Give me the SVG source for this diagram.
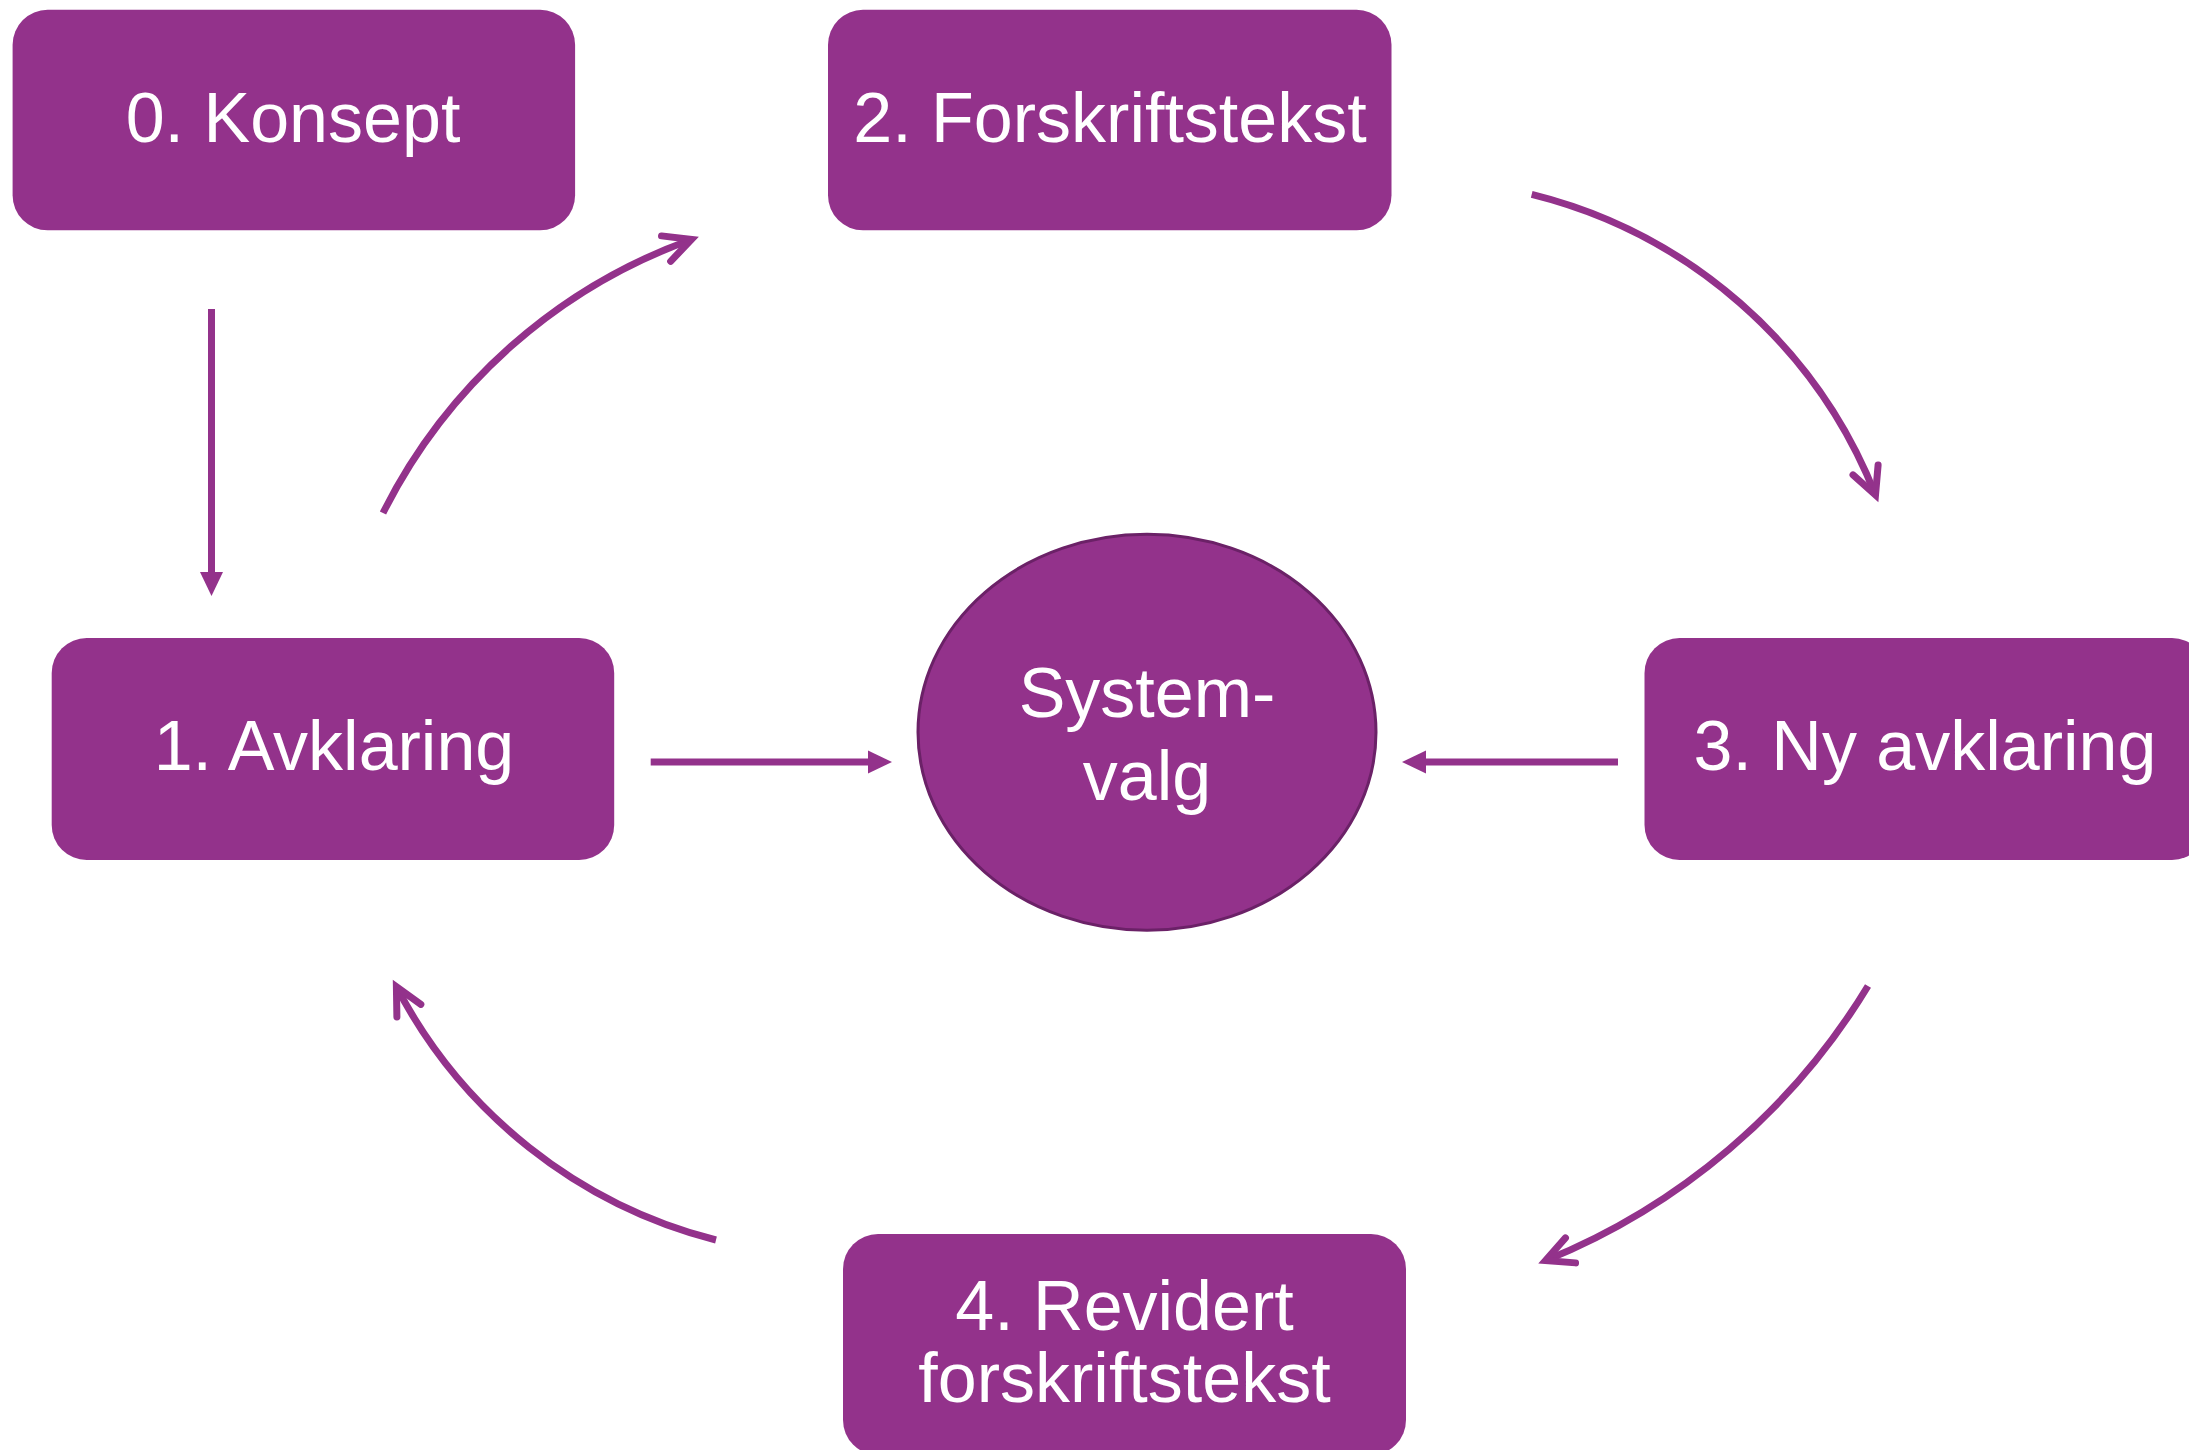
<svg xmlns="http://www.w3.org/2000/svg" width="2189" height="1450" viewBox="0 0 2189 1450">
  <defs>
    <marker id="tri" markerUnits="userSpaceOnUse" markerWidth="30" markerHeight="30" refX="0" refY="0" orient="auto" overflow="visible">
      <path d="M0,-11.5 L24,0 L0,11.5 Z" fill="#93328B"/>
    </marker>
    <marker id="vee" markerUnits="userSpaceOnUse" markerWidth="40" markerHeight="40" refX="0" refY="0" orient="auto" overflow="visible">
      <path d="M-27,-13.5 L0,0 L-27,13.5" fill="none" stroke="#93328B" stroke-width="7" stroke-linecap="round" stroke-linejoin="miter"/>
    </marker>
  </defs>
  <style>
    .box { fill: #93328B; }
    .ell { fill: #93328B; stroke: #6B2167; stroke-width: 3; }
    .lbl { fill: #FFFFFF; font-family: "Liberation Sans", Arial, sans-serif; font-size: 70px; text-anchor: middle; }
    .straight { fill: none; stroke: #93328B; stroke-width: 7; marker-end: url(#tri); }
    .curve { fill: none; stroke: #93328B; stroke-width: 7; marker-end: url(#vee); }
  </style>
  <rect width="2189" height="1450" fill="#FFFFFF"/>

  <g id="connectors">
    <path class="straight" d="M211.5,309 L211.5,572"/>
    <path class="straight" d="M650.7,762 L868,762"/>
    <path class="straight" d="M1618,762 L1426,762"/>
    <path class="curve" d="M383,513 A554,554 0 0 1 691.5,239.5"/>
    <path class="curve" d="M1531.7,194.3 A499,499 0 0 1 1875.5,495"/>
    <path class="curve" d="M1868,986 A672,672 0 0 1 1545.5,1260.5"/>
    <path class="curve" d="M716,1240 A499.5,499.5 0 0 1 396.4,986.7"/>
  </g>

  <g id="node0">
    <rect class="box" x="12.6" y="9.8" width="562.5" height="220.5" rx="35" ry="35"/>
    <text class="lbl" x="293" y="142">0. Konsept</text>
  </g>
  <g id="node2">
    <rect class="box" x="828" y="9.8" width="563.5" height="220.5" rx="35" ry="35"/>
    <text class="lbl" x="1110" y="142">2. Forskriftstekst</text>
  </g>
  <g id="node1">
    <rect class="box" x="51.7" y="638" width="562.5" height="222" rx="35" ry="35"/>
    <text class="lbl" x="334" y="770">1. Avklaring</text>
  </g>
  <g id="node3">
    <rect class="box" x="1644.5" y="638" width="562.5" height="222" rx="35" ry="35"/>
    <text class="lbl" x="1925" y="770">3. Ny avklaring</text>
  </g>
  <g id="node4">
    <rect class="box" x="843" y="1234" width="563" height="221" rx="35" ry="35"/>
    <text class="lbl" x="1124.5" y="1329.5">4. Revidert</text>
    <text class="lbl" x="1124.5" y="1401.5">forskriftstekst</text>
  </g>
  <g id="nodeSystemvalg">
    <ellipse class="ell" cx="1147" cy="732.3" rx="229" ry="198"/>
    <text class="lbl" x="1147" y="716.5">System-</text>
    <text class="lbl" x="1147" y="800">valg</text>
  </g>
</svg>
